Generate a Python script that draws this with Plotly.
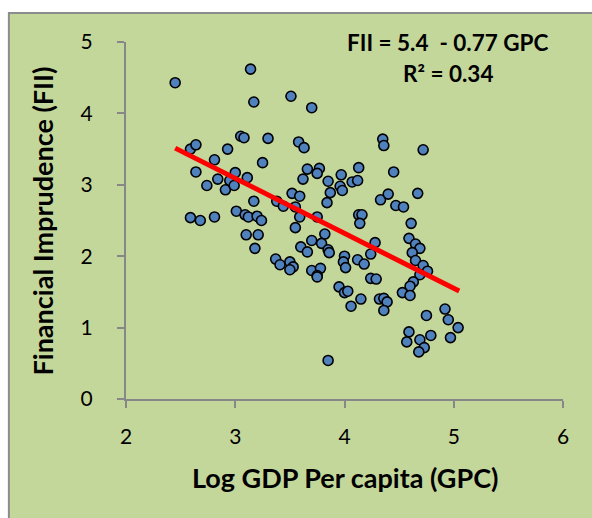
import plotly.graph_objects as go

# Log GDP per capita (GPC) and Financial Imprudence (FII)
gpc = [2.45, 3.14, 3.17, 3.51, 3.70, 3.05, 3.08, 3.30, 2.59, 2.64,
       2.93, 2.81, 2.64, 2.74, 2.84, 2.91, 2.95, 2.99, 3.00, 3.11,
       3.25, 3.17, 3.38, 3.44, 3.52, 3.59, 3.55, 3.58, 3.63, 3.66,
       3.77, 3.75, 3.62, 3.85, 3.87, 3.84, 3.97, 3.96, 3.98, 4.07,
       4.13, 4.12, 4.45, 4.35, 4.36, 4.72, 4.33, 4.40, 4.47, 4.54,
       4.67, 3.75, 4.13, 4.16, 4.14, 4.61, 3.82, 3.70, 3.79, 3.60,
       3.66, 3.85, 3.86, 4.28, 4.24, 4.59, 4.65, 4.69, 4.62, 4.65,
       4.72, 4.76, 4.69, 4.00, 3.99, 4.01, 4.12, 4.18, 3.70, 3.78,
       3.75, 4.24, 4.29, 4.63, 4.60, 4.53, 4.60, 3.95, 4.00, 4.03,
       4.06, 4.15, 4.32, 4.36, 4.39, 4.36, 4.92, 4.95, 5.04, 4.97,
       4.75, 4.59, 4.57, 4.69, 4.73, 4.68, 4.79, 3.85, 2.59, 2.68,
       2.81, 3.01, 3.09, 3.12, 3.20, 3.24, 3.10, 3.21, 3.18, 3.59,
       3.55, 3.37, 3.41, 3.50, 3.53, 3.50, 3.75]
fii = [4.43, 4.62, 4.16, 4.24, 4.08, 3.68, 3.66, 3.65, 3.50, 3.56,
       3.50, 3.35, 3.18, 2.99, 3.08, 2.93, 3.06, 2.99, 3.17, 3.10,
       3.31, 2.77, 2.77, 2.70, 2.88, 2.84, 2.69, 3.60, 3.52, 3.22,
       3.23, 3.16, 3.08, 3.05, 2.89, 2.75, 3.14, 2.98, 2.92, 3.04,
       3.24, 3.06, 3.18, 3.64, 3.55, 3.49, 2.79, 2.87, 2.71, 2.69,
       2.88, 2.55, 2.58, 2.58, 2.46, 2.46, 2.31, 2.22, 2.18, 2.13,
       2.06, 2.09, 2.05, 2.19, 2.03, 2.25, 2.17, 2.11, 2.05, 1.94,
       1.87, 1.79, 1.74, 2.00, 1.92, 1.84, 1.95, 1.89, 1.80, 1.83,
       1.73, 1.69, 1.68, 1.64, 1.58, 1.49, 1.45, 1.57, 1.49, 1.51,
       1.30, 1.40, 1.40, 1.41, 1.36, 1.24, 1.26, 1.11, 1.00, 0.86,
       1.17, 0.94, 0.80, 0.83, 0.72, 0.66, 0.89, 0.54, 2.54, 2.50,
       2.55, 2.63, 2.58, 2.55, 2.56, 2.50, 2.30, 2.30, 2.11, 2.55,
       2.40, 1.96, 1.88, 1.92, 1.85, 1.81, 1.71]

# Trend line: FII = 5.4 - 0.77 GPC
intercept = 5.4
slope = -0.77
trend_x = [2.45, 5.05]
trend_y = [intercept + slope * v for v in trend_x]

x_ticks = [2, 3, 4, 5, 6]
y_ticks = [0, 1, 2, 3, 4, 5]

FONT = "Lato, 'Open Sans', sans-serif"
GREEN = "#C4D79B"
AXIS = "#878787"

fig = go.Figure()
fig.add_trace(go.Scatter(
    x=gpc, y=fii, mode="markers",
    marker=dict(size=10, color="#4F81BD", line=dict(color="#000000", width=1.6)),
    showlegend=False, cliponaxis=False,
))
fig.add_trace(go.Scatter(
    x=trend_x, y=trend_y, mode="lines",
    line=dict(color="#FF0000", width=5),
    showlegend=False,
))

fig.update_layout(
    width=592, height=518,
    margin=dict(l=126, r=29, t=42, b=119),
    paper_bgcolor="white",
    plot_bgcolor=GREEN,
    font=dict(family=FONT, color="#000000", size=21),
    xaxis=dict(
        range=[2, 6], tickvals=x_ticks, showgrid=False, zeroline=False,
        showline=True, linecolor=AXIS, linewidth=2,
        ticks="outside", ticklen=7, tickwidth=2, tickcolor=AXIS,
        ticklabelstandoff=11, tickfont=dict(size=21),
    ),
    yaxis=dict(
        range=[0, 5], tickvals=y_ticks, showgrid=False, zeroline=False,
        showline=True, linecolor=AXIS, linewidth=2,
        ticks="outside", ticklen=7, tickwidth=2, tickcolor=AXIS,
        ticklabelstandoff=20, tickfont=dict(size=21),
    ),
    shapes=[dict(
        type="rect", xref="paper", yref="paper", layer="below",
        x0=-0.268, x1=1.12, y0=-0.40, y1=1.081,
        fillcolor=GREEN, line=dict(color="#8C8C8C", width=2),
    )],
    annotations=[
        dict(text="<b>Log GDP Per capita (GPC)</b>", xref="paper", yref="paper",
             x=0.501, y=-0.221, showarrow=False, font=dict(size=27),
             xanchor="center", yanchor="middle"),
        dict(text="<b>Financial Imprudence (FII)</b>", xref="paper", yref="paper",
             x=-0.190, y=0.50, showarrow=False, font=dict(size=27), textangle=-90,
             xanchor="center", yanchor="middle"),
        dict(text="<b>FII = 5.4  - 0.77 GPC</b>", xref="paper", yref="paper",
             x=0.737, y=1.0, showarrow=False, font=dict(size=22.5),
             xanchor="center", yanchor="middle"),
        dict(text="<b>R² = 0.34</b>", xref="paper", yref="paper",
             x=0.737, y=0.913, showarrow=False, font=dict(size=22.5),
             xanchor="center", yanchor="middle"),
    ],
)

fig.write_html(
    "out.html",
    config={"displayModeBar": False},
    post_script="document.body.style.margin='0';document.body.style.overflow='hidden';",
)
